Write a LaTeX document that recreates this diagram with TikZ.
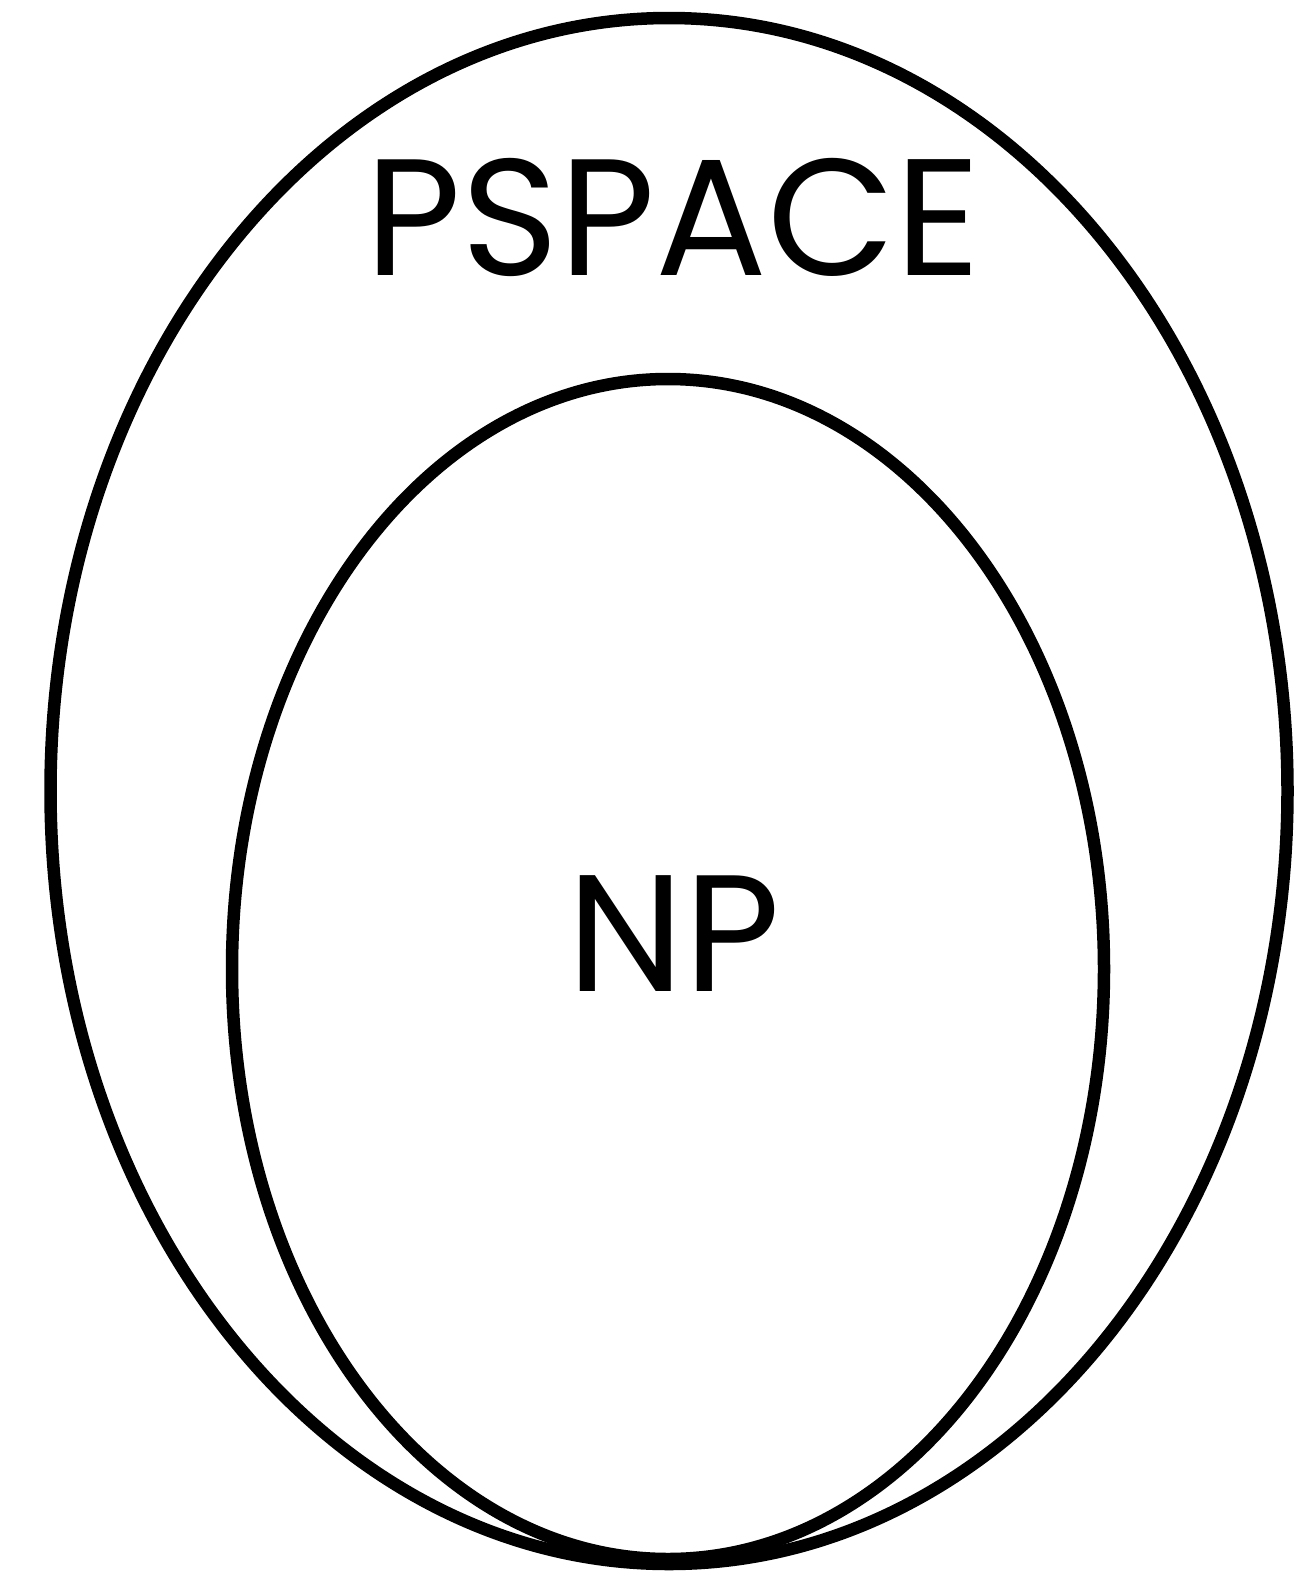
\documentclass[tikz,border=0pt]{standalone}
\usepackage{fontspec}
\setmainfont{Poppins}
\begin{document}
\begin{tikzpicture}[x=1pt, y=-1pt,
  set/.style={draw=black, line width=12.5pt},
  setname/.style={font=\fontsize{166}{166}\selectfont, anchor=base, inner sep=0pt},
]
% Canvas
\useasboundingbox (0,0) rectangle (1316,1572);

% Outer set
\draw[set] (669,791) ellipse [x radius=618.5, y radius=773];
\node[setname] (pspace) at (673,275) {PSPACE};

% Inner set
\draw[set] (668,969) ellipse [x radius=436, y radius=590];
\node[setname] (np) at (674,991) {NP};
\end{tikzpicture}
\end{document}
